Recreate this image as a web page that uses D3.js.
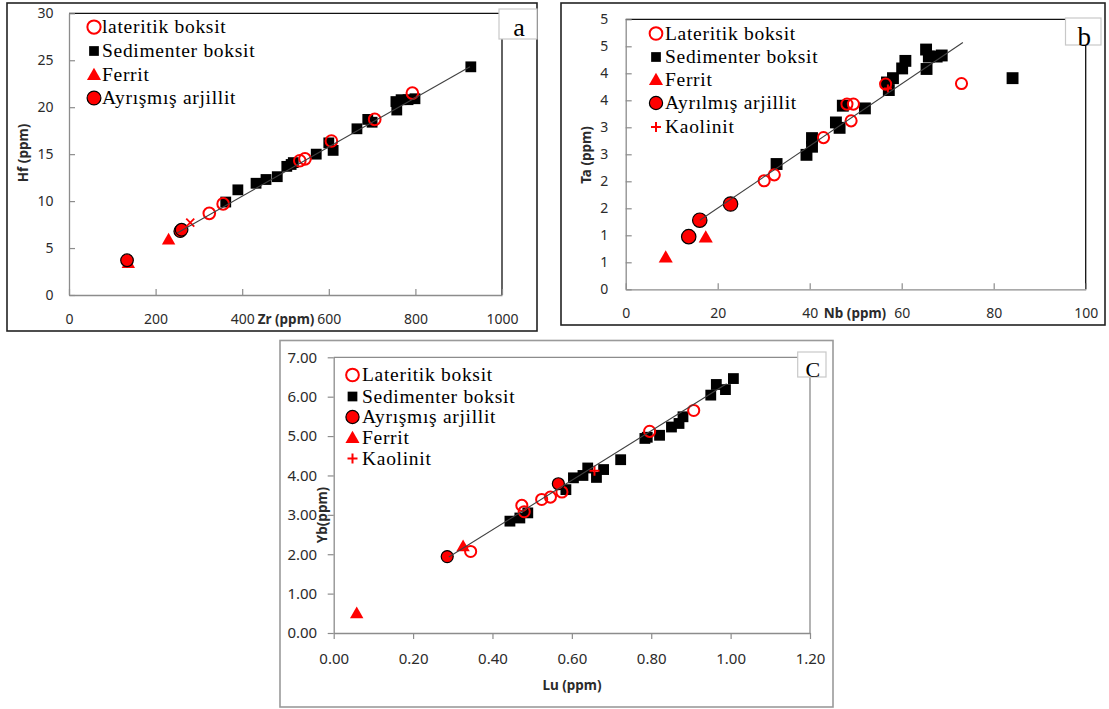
<!DOCTYPE html>
<html><head><meta charset="utf-8">
<script src="https://cdn.jsdelivr.net/npm/d3@7"></script>
<style>
body{margin:0;background:#fff;}
svg{display:block;}
</style></head><body>
<svg id="chart" width="1109" height="709"></svg>
<script>
// ---------- Panel a : Zr vs Hf ----------
const aLateritik = [[324,8.7],[356,9.7],[533,14.3],[545,14.5],[606,16.4],[706,18.7],[793,21.5]];
const aSedimenter = [[362,9.9],[390,11.2],[432,11.9],[455,12.3],[481,12.6],[503,13.7],[513,13.9],[518,14.1],[571,15.0],[600,16.2],[610,15.4],[665,17.7],[690,18.7],[700,18.4],[755,20.6],[757,19.7],[767,20.8],[783,20.8],[799,20.9],[928,24.3]];
const aFerrit = [[137,3.4],[230,5.9]];
const aArjillit = [[134,3.7],[257,6.8],[260,6.95]];
const aKaolinit = [[280,7.7]];
const aTrend = [[250,6.6],[926,24.3]];
const aXTicks = [0,200,400,600,800,1000];
const aYTicks = [0,5,10,15,20,25,30];
const aYLabels = ["0","5","10","15","20","25","30"];
const aLegend = ["lateritik boksit","Sedimenter boksit","Ferrit","Ayrışmış arjillit"];

// ---------- Panel b : Nb vs Ta ----------
const bLateritik = [[30.1,2.01],[32.3,2.12],[43.0,2.81],[48.1,3.43],[49.5,3.43],[49.0,3.12],[56.5,3.80],[73.0,3.81]];
const bSedimenter = [[32.8,2.32],[39.3,2.49],[40.5,2.64],[40.5,2.80],[45.7,3.09],[46.5,2.99],[47.2,3.40],[52.0,3.35],[56.8,3.83],[57.2,3.69],[58.1,3.91],[60.1,4.09],[60.8,4.23],[65.3,4.44],[65.4,4.08],[65.9,4.31],[67.6,4.31],[68.7,4.33],[84.1,3.91]];
const bFerrit = [[8.7,0.59],[17.4,0.96]];
const bArjillit = [[13.7,0.975],[16.1,1.28],[22.8,1.58]];
const bKaolinit = [[57.0,3.72]];
const bTrend = [[16.1,1.28],[73.3,4.57]];
const bXTicks = [0,20,40,60,80,100];
const bYTicks = [0,0.5,1,1.5,2,2.5,3,3.5,4,4.5,5];
const bYLabels = ["0","1","1","2","2","3","3","4","4","5","5"];
const bLegend = ["Lateritik boksit","Sedimenter boksit","Ferrit","Ayrılmış arjillit","Kaolinit"];

// ---------- Panel c : Lu vs Yb ----------
const cLateritik = [[0.345,2.07],[0.474,3.24],[0.48,3.08],[0.524,3.39],[0.546,3.45],[0.575,3.58],[0.796,5.12],[0.907,5.65]];
const cSedimenter = [[0.444,2.84],[0.469,2.92],[0.489,3.05],[0.585,3.64],[0.604,3.94],[0.628,4.00],[0.640,4.19],[0.662,3.95],[0.680,4.15],[0.723,4.40],[0.784,4.94],[0.790,4.97],[0.821,5.02],[0.851,5.23],[0.870,5.32],[0.880,5.49],[0.950,6.04],[0.964,6.31],[0.987,6.18],[1.007,6.46]];
const cArjillit = [[0.286,1.94],[0.566,3.79]];
const cFerrit = [[0.058,0.50],[0.326,2.20]];
const cKaolinit = [[0.657,4.12]];
const cTrend = [[0.29,1.93],[0.99,6.33]];
const cXTicks = [0,0.2,0.4,0.6,0.8,1.0,1.2];
const cXLabels = ["0.00","0.20","0.40","0.60","0.80","1.00","1.20"];
const cYTicks = [0,1,2,3,4,5,6,7];
const cYLabels = ["0.00","1.00","2.00","3.00","4.00","5.00","6.00","7.00"];
const cLegend = ["Lateritik boksit","Sedimenter boksit","Ayrışmış arjillit","Ferrit","Kaolinit"];

const RED = "#ff0000";
const svg = d3.select("#chart");

function marker(g, type, cx, cy, s) {
  s = s || 1;
  if (type === "open") {
    g.append("circle").attr("cx",cx).attr("cy",cy).attr("r",5.3*s).attr("fill","none").attr("stroke",RED).attr("stroke-width",2);
  } else if (type === "square") {
    const w = 10.8*s;
    g.append("rect").attr("x",cx-w/2).attr("y",cy-w/2).attr("width",w).attr("height",w).attr("fill","#000");
  } else if (type === "tri") {
    g.append("path").attr("transform",`translate(${cx},${cy+1})`).attr("d",d3.symbol(d3.symbolTriangle, 78*s*s)()).attr("fill",RED);
  } else if (type === "fill") {
    g.append("circle").attr("cx",cx).attr("cy",cy).attr("r",6*s).attr("fill",RED).attr("stroke","#000").attr("stroke-width",1.2);
  } else if (type === "plus") {
    const h = 5*s;
    g.append("path").attr("d",`M${cx-h},${cy}H${cx+h}M${cx},${cy-h}V${cy+h}`).attr("stroke",RED).attr("stroke-width",2).attr("fill","none");
  } else if (type === "x") {
    const h = 4*s;
    g.append("path").attr("d",`M${cx-h},${cy-h}L${cx+h},${cy+h}M${cx-h},${cy+h}L${cx+h},${cy-h}`).attr("stroke",RED).attr("stroke-width",1.8).attr("fill","none");
  }
}

function panel(o) {
  const g = svg.append("g");
  g.append("rect").attr("x",o.box[0]).attr("y",o.box[1]).attr("width",o.box[2]-o.box[0]).attr("height",o.box[3]-o.box[1])
    .attr("fill","#fff").attr("stroke",o.boxColor).attr("stroke-width",o.boxW);
  const x = d3.scaleLinear().domain(o.xDomain).range([o.px0,o.px1]);
  const y = d3.scaleLinear().domain(o.yDomain).range([o.py1,o.py0]);
  g.append("path").attr("d",`M${o.px0},${o.py0}H${o.px1}V${o.py1}`).attr("fill","none")
    .attr("stroke",o.frameColor).attr("stroke-width",1.3);
  const tin = o.tickIn ? -6 : 6;
  const ya = d3.axisLeft(y).tickValues(o.yTicks).tickFormat((d,i)=>o.yLabels[i]).tickSizeInner(tin).tickSizeOuter(0).tickPadding(o.yPad);
  const xa = d3.axisBottom(x).tickValues(o.xTicks).tickFormat((d,i)=>o.xLabels[i]).tickSizeInner(tin).tickSizeOuter(0).tickPadding(o.xPad);
  const gy = g.append("g").attr("transform",`translate(${o.px0},0)`).call(ya);
  const gx = g.append("g").attr("transform",`translate(0,${o.py1})`).call(xa);
  [gx,gy].forEach(a=>{
    a.select(".domain").attr("stroke","#8c8c8c").attr("stroke-width",1.3);
    a.selectAll(".tick line").attr("stroke","#8c8c8c").attr("stroke-width",1.2);
    a.selectAll(".tick text").attr("font-family","'Noto Sans', sans-serif").attr("font-size",o.tickFont).attr("fill","#2b2b2b");
  });
  g.append("text").attr("x",o.xTitle[0]).attr("y",o.xTitle[1]).attr("text-anchor","middle").attr("dy","0.35em")
    .attr("font-family","'Noto Sans', sans-serif").attr("font-weight","bold").attr("font-size",13.5).attr("fill","#2b2b2b").text(o.xTitleText);
  g.append("text").attr("transform",`translate(${o.yTitle[0]},${o.yTitle[1]}) rotate(-90)`).attr("text-anchor","middle").attr("dy","0.35em")
    .attr("font-family","'Noto Sans', sans-serif").attr("font-weight","bold").attr("font-size",13.5).attr("fill","#2b2b2b").text(o.yTitleText);
  const mk = g.append("g");
  o.series.forEach(s=>{
    s.data.forEach(d=>marker(mk, s.type, x(d[0]), y(d[1]), s.scale));
  });
  g.append("path").datum(o.trend).attr("d",d3.line().x(d=>x(d[0])).y(d=>y(d[1])))
    .attr("fill","none").attr("stroke","#404040").attr("stroke-width",1.1);
  const lg = g.append("g");
  o.legend.forEach((t,i)=>{
    const yy = o.legY[i];
    marker(lg, o.legTypes[i], o.legMX, yy, o.legScale[i]);
    lg.append("text").attr("x",o.legTX).attr("y",yy).attr("dy","0.33em")
      .attr("font-family","'Liberation Serif', 'Times New Roman', serif").attr("font-size",19.5)
      .attr("letter-spacing","0.7px").attr("fill","#000").text(t);
  });
  const lb = o.letterBox;
  g.append("rect").attr("x",lb[0]).attr("y",lb[1]).attr("width",lb[2]-lb[0]).attr("height",lb[3]-lb[1])
    .attr("fill","#fff").attr("stroke","#c8c8c8").attr("stroke-width",1.2);
  g.append("text").attr("x",(lb[0]+lb[2])/2+1).attr("y",o.letterY).attr("text-anchor","middle")
    .attr("font-family","'Liberation Serif', serif").attr("font-size",o.letterSize).attr("fill","#000").text(o.letter);
}

panel({
  box:[7,3,537,331], boxColor:"#222", boxW:1.6,
  px0:69, px1:502, py0:13.3, py1:295, frameColor:"#111",
  xDomain:[0,1000], yDomain:[0,30], tickIn:true,
  xTicks:aXTicks, xLabels:aXTicks.map(String), yTicks:aYTicks, yLabels:aYLabels,
  yPad:15.5, xPad:19, tickFont:14,
  xTitle:[286,319], xTitleText:"Zr (ppm)", yTitle:[23,153], yTitleText:"Hf (ppm)",
  series:[
    {type:"square",data:aSedimenter,scale:1},
    {type:"open",data:aLateritik,scale:1.1},
    {type:"tri",data:aFerrit,scale:1},
    {type:"fill",data:aArjillit,scale:1.05},
    {type:"x",data:aKaolinit,scale:1}
  ],
  trend:aTrend,
  legend:aLegend, legTypes:["open","square","tri","fill"], legScale:[1.25,0.9,1.05,1.15],
  legMX:94, legTX:102, legY:[27,51,75,98],
  letterBox:[499,9,537,39], letter:"a", letterY:36, letterSize:26
});

panel({
  box:[561,3,1105,325], boxColor:"#222", boxW:1.6,
  px0:625.7, px1:1085.7, py0:19.3, py1:289.3, frameColor:"#111",
  xDomain:[0,100], yDomain:[0,5], tickIn:true,
  xTicks:bXTicks, xLabels:bXTicks.map(String), yTicks:bYTicks, yLabels:bYLabels,
  yPad:17.5, xPad:19, tickFont:14,
  xTitle:[855,313], xTitleText:"Nb (ppm)", yTitle:[586,155], yTitleText:"Ta (ppm)",
  series:[
    {type:"square",data:bSedimenter,scale:1.1},
    {type:"open",data:bLateritik,scale:1.05},
    {type:"tri",data:bFerrit,scale:1.05},
    {type:"fill",data:bArjillit,scale:1.2},
    {type:"plus",data:bKaolinit,scale:0.8}
  ],
  trend:bTrend,
  legend:bLegend, legTypes:["open","square","tri","fill","plus"], legScale:[1.2,0.9,1.05,1.1,1.0],
  legMX:656, legTX:665, legY:[33.5,57,80,103,127],
  letterBox:[1065.5,18,1101,45], letter:"b", letterY:46, letterSize:27
});

panel({
  box:[280,340.5,833,707], boxColor:"#9a9a9a", boxW:1.6,
  px0:333.7, px1:810, py0:357.3, py1:633, frameColor:"#8c8c8c",
  xDomain:[0,1.2], yDomain:[0,7], tickIn:false,
  xTicks:cXTicks, xLabels:cXLabels, yTicks:cYTicks, yLabels:cYLabels,
  yPad:10.5, xPad:14.5, tickFont:15,
  xTitle:[572,685], xTitleText:"Lu (ppm)", yTitle:[322,515], yTitleText:"Yb(ppm)",
  series:[
    {type:"square",data:cSedimenter,scale:1},
    {type:"open",data:cLateritik,scale:1.05},
    {type:"tri",data:cFerrit,scale:1},
    {type:"fill",data:cArjillit,scale:1},
    {type:"plus",data:cKaolinit,scale:1}
  ],
  trend:cTrend,
  legend:cLegend, legTypes:["open","square","fill","tri","plus"], legScale:[1.2,0.9,1.1,1.05,1.0],
  legMX:352.5, legTX:362, legY:[375,396.5,417,438,458.5],
  letterBox:[797.7,352,826,377], letter:"C", letterY:377, letterSize:22
});
</script>
</body></html>
